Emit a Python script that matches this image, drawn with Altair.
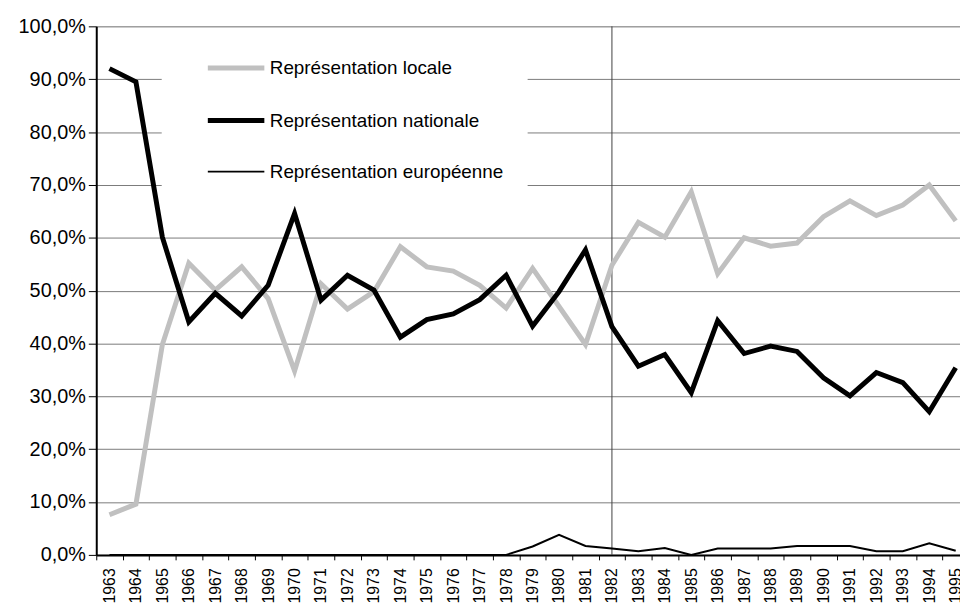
import altair as alt
import pandas as pd

# ---- data (percent) ----
years = list(range(1963, 1996))
series = ["Représentation locale", "Représentation nationale", "Représentation européenne"]
locale = [7.6, 9.6, 39.8, 55.2, 50.1, 54.5, 48.5, 34.8, 51.3, 46.5,
          49.8, 58.3, 54.5, 53.7, 51.0, 46.7, 54.2, 47.0, 39.8, 54.8,
          62.9, 60.1, 68.7, 53.2, 60.0, 58.4, 59.0, 64.0, 67.0, 64.2,
          66.2, 70.0, 63.2]
nationale = [92.0, 89.5, 60.1, 44.1, 49.5, 45.2, 51.0, 64.6, 48.2, 52.9,
             50.1, 41.2, 44.5, 45.6, 48.3, 52.9, 43.3, 49.8, 57.7, 43.2,
             35.7, 37.9, 30.7, 44.3, 38.1, 39.5, 38.5, 33.5, 30.1, 34.5,
             32.6, 27.1, 35.4]
europeenne = [0.0] * 16 + [1.6, 3.8, 1.7, 1.2, 0.7, 1.3, 0.0, 1.2, 1.2, 1.2,
                           1.7, 1.7, 1.7, 0.7, 0.7, 2.2, 0.8]
marker_year = [1982]
y_ticks = [i / 10 for i in range(11)]

colors = ["#C0C0C0", "#000000", "#000000"]
widths = [5, 5, 2]

rows = []
for name, vals in zip(series, [locale, nationale, europeenne]):
    for yr, v in zip(years, vals):
        rows.append({"annee": yr, "part": v / 100.0, "serie": name})
df = pd.DataFrame(rows)
marker_df = pd.DataFrame({"annee": marker_year})

FONT = "Liberation Sans"
PLOT_W = 871          # visible plot width (page is 968 px wide)
RANGE_W = 880         # the category axis runs a little past the right edge
STEP = RANGE_W / 33.0

x_scale = alt.Scale(type="point", domain=years, padding=0.5, rangeMin=0, rangeMax=RANGE_W)
y_scale = alt.Scale(domain=[0, 1], nice=False, zero=True)

legend = alt.Legend(
    title=None,
    orient="none",
    legendX=66,
    legendY=6,
    fillColor="white",
    padding=24,
    symbolOffset=39,
    symbolType="M-3,0L3,0",
    symbolSize=361,
    labelFont=FONT,
    labelFontSize=19,
    labelColor="black",
    labelOffset=22,
    labelLimit=500,
    rowPadding=31,
)

x_axis = alt.Axis(
    tickOffset=-STEP / 2,
    labelOffset=STEP / 2,
    labelAngle=270,
    labelFont=FONT,
    labelFontSize=16,
    labelColor="black",
    labelPadding=8,
    labelOverlap=False,
    tickSize=5,
    tickColor="black",
    tickWidth=1,
    domainColor="black",
    domainWidth=2,
    grid=False,
    title=None,
)

y_axis = alt.Axis(
    values=y_ticks,
    labelExpr="replace(format(datum.value, '.1%'), '.', ',')",
    labelFont=FONT,
    labelFontSize=20,
    labelColor="black",
    labelPadding=3,
    tickSize=8,
    tickColor="black",
    tickWidth=1,
    domainColor="black",
    domainWidth=2,
    grid=True,
    gridColor="#7a7a7a",
    gridWidth=1,
    title=None,
)

lines = alt.Chart(df).mark_line(strokeJoin="miter").encode(
    x=alt.X("annee:O", scale=x_scale, axis=x_axis),
    y=alt.Y("part:Q", scale=y_scale, axis=y_axis),
    color=alt.Color("serie:N", scale=alt.Scale(domain=series, range=colors), legend=legend),
    strokeWidth=alt.StrokeWidth("serie:N", scale=alt.Scale(type="ordinal", domain=series, range=widths), legend=legend),
)

marker = alt.Chart(marker_df).mark_rule(color="#404040", strokeWidth=1).encode(
    x=alt.X("annee:O", scale=x_scale),
)

chart = alt.layer(marker, lines).properties(
    width=PLOT_W,
    height=533,
    autosize=alt.AutoSizeParams(type="none"),
    padding={"left": 89, "top": 16, "right": 0, "bottom": 46},
).configure_view(stroke=None).configure(font=FONT, background="white")

chart.save("out.html", embed_options={"renderer": "svg", "actions": False})
